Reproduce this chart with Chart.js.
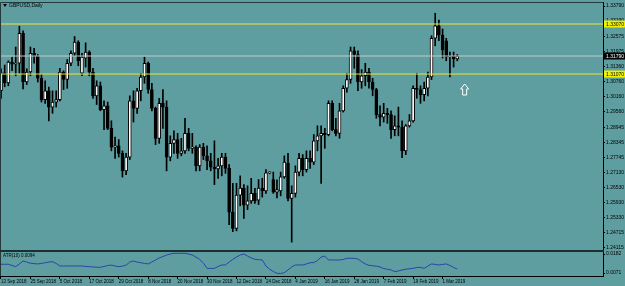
<!DOCTYPE html>
<html>
<head>
<meta charset="utf-8">
<script src="https://cdn.jsdelivr.net/npm/chart.js@4.4.1/dist/chart.umd.min.js"></script>
<style>
  html, body { margin: 0; padding: 0; background: #5f9ea0; }
  #wrap { position: relative; width: 625px; height: 286px; overflow: hidden; }
  canvas { position: absolute; left: 0; }
  #main { top: 0; }
  #atr { top: 251px; }
</style>
</head>
<body>
<div id="wrap">
  <canvas id="main" width="625" height="251"></canvas>
  <canvas id="atr" width="625" height="35"></canvas>
</div>
<script>
const FONT = "'Liberation Sans', Arial, sans-serif";

// GBPUSD daily, 13 Sep 2018 .. 7 Mar 2019
const opens = [
  1.3040,1.3112,1.3071,1.3155,1.3146,1.3150,1.3270,1.3075,1.3115,1.3190,
  1.3178,1.3090,1.3005,1.3040,1.2975,1.2995,1.3005,1.3115,1.3085,1.3150,
  1.3190,1.3235,1.3110,1.3170,1.3195,1.3115,1.3020,1.3060,1.2965,1.2980,
  1.2890,1.2815,1.2820,1.2790,1.2720,1.2775,1.3000,1.2970,1.3040,1.3095,
  1.3150,1.3045,1.2970,1.2850,1.2990,1.2975,1.2775,1.2830,1.2845,1.2790,
  1.2800,1.2870,1.2810,1.2815,1.2740,1.2815,1.2780,1.2760,1.2735,1.2728,
  1.2740,1.2775,1.2730,1.2555,1.2490,1.2623,1.2651,1.2583,1.2600,1.2630,
  1.2603,1.2651,1.2640,1.2712,1.2685,1.2635,1.2640,1.2696,1.2750,1.2610,
  1.2630,1.2715,1.2770,1.2725,1.2770,1.2755,1.2840,1.2860,1.2870,1.2865,
  1.2990,1.2885,1.2870,1.2960,1.3050,1.3085,1.3200,1.3185,1.3075,1.3100,
  1.3115,1.3075,1.3045,1.2945,1.2935,1.2950,1.2945,1.2885,1.2900,1.2895,
  1.2800,1.2900,1.2920,1.3050,1.3045,1.3025,1.3050,1.3095,1.3250,1.3300,
  1.3262,1.3240,1.3175,1.3178,1.3167
];
const highs = [
  1.3128,1.3143,1.3160,1.3175,1.3215,1.3298,1.3280,1.3128,1.3215,1.3210,
  1.3185,1.3105,1.3080,1.3055,1.3040,1.3040,1.3130,1.3120,1.3165,1.3200,
  1.3257,1.3240,1.3190,1.3232,1.3200,1.3130,1.3080,1.3075,1.3000,1.2995,
  1.2920,1.2855,1.2845,1.2800,1.2790,1.3020,1.3040,1.3050,1.3110,1.3175,
  1.3155,1.3070,1.2975,1.3010,1.3045,1.3000,1.2860,1.2880,1.2870,1.2850,
  1.2930,1.2890,1.2870,1.2820,1.2825,1.2830,1.2820,1.2790,1.2840,1.2770,
  1.2790,1.2790,1.2745,1.2670,1.2670,1.2700,1.2665,1.2660,1.2690,1.2650,
  1.2685,1.2690,1.2725,1.2716,1.2715,1.2684,1.2715,1.2780,1.2790,1.2660,
  1.2740,1.2790,1.2785,1.2800,1.2800,1.2865,1.2900,1.2900,1.2890,1.3000,
  1.3000,1.2930,1.2990,1.3060,1.3110,1.3215,1.3215,1.3200,1.3125,1.3150,
  1.3130,1.3090,1.3050,1.2980,1.2990,1.2970,1.2960,1.2940,1.2975,1.2920,
  1.2905,1.2945,1.3060,1.3110,1.3060,1.3075,1.3115,1.3260,1.3350,1.3323,
  1.3287,1.3250,1.3195,1.3195,1.3185
];
const lows = [
  1.3010,1.3056,1.3060,1.3120,1.3100,1.3110,1.3047,1.3065,1.3100,1.3150,
  1.3075,1.2995,1.2990,1.2920,1.2950,1.2975,1.3000,1.3045,1.3050,1.3140,
  1.3180,1.3140,1.3100,1.3135,1.3100,1.3010,1.2985,1.2960,1.2885,1.2885,
  1.2800,1.2770,1.2775,1.2695,1.2705,1.2765,1.2915,1.2950,1.3000,1.3070,
  1.3030,1.2960,1.2825,1.2830,1.2890,1.2720,1.2760,1.2790,1.2770,1.2780,
  1.2790,1.2800,1.2790,1.2720,1.2720,1.2765,1.2725,1.2720,1.2665,1.2690,
  1.2700,1.2710,1.2505,1.2477,1.2480,1.2580,1.2530,1.2565,1.2590,1.2590,
  1.2585,1.2615,1.2630,1.2708,1.2630,1.2612,1.2620,1.2690,1.2600,1.2435,
  1.2615,1.2700,1.2700,1.2715,1.2730,1.2745,1.2800,1.2670,1.2810,1.2860,
  1.2880,1.2860,1.2850,1.2955,1.3035,1.3070,1.3130,1.3040,1.3050,1.3060,
  1.3050,1.3020,1.2930,1.2900,1.2915,1.2910,1.2850,1.2860,1.2860,1.2773,
  1.2785,1.2895,1.2915,1.3010,1.2990,1.3000,1.3020,1.3085,1.3220,1.3240,
  1.3171,1.3160,1.3095,1.3135,1.3160
];
const closes = [
  1.3112,1.3071,1.3155,1.3146,1.3150,1.3270,1.3075,1.3115,1.3190,1.3178,
  1.3090,1.3005,1.3040,1.2975,1.2995,1.3005,1.3115,1.3085,1.3150,1.3190,
  1.3235,1.3160,1.3175,1.3195,1.3115,1.3020,1.3060,1.2965,1.2980,1.2890,
  1.2815,1.2820,1.2790,1.2720,1.2775,1.3000,1.2970,1.3040,1.3095,1.3150,
  1.3045,1.2970,1.2850,1.2990,1.2975,1.2775,1.2830,1.2845,1.2790,1.2800,
  1.2870,1.2810,1.2815,1.2740,1.2815,1.2780,1.2760,1.2735,1.2728,1.2740,
  1.2775,1.2730,1.2555,1.2490,1.2623,1.2651,1.2583,1.2600,1.2630,1.2600,
  1.2651,1.2640,1.2712,1.2712,1.2635,1.2645,1.2696,1.2755,1.2610,1.2630,
  1.2715,1.2770,1.2725,1.2770,1.2755,1.2840,1.2860,1.2870,1.2865,1.2990,
  1.2885,1.2870,1.2960,1.3050,1.3085,1.3200,1.3185,1.3075,1.3100,1.3115,
  1.3075,1.3045,1.2945,1.2935,1.2950,1.2945,1.2885,1.2900,1.2895,1.2800,
  1.2900,1.2920,1.3050,1.3045,1.3025,1.3050,1.3095,1.3250,1.3300,1.3262,
  1.3203,1.3175,1.3178,1.3167,1.3179
];

// ATR(10)
const atrValues = [
  0.0122,0.0122,0.0122,0.0115,0.0108,0.0124,0.0141,0.0135,0.0128,0.0126,
  0.0124,0.0127,0.0131,0.0135,0.0137,0.0127,0.0112,0.0112,0.0112,0.0112,
  0.0112,0.0112,0.0112,0.0109,0.0108,0.0106,0.0105,0.0104,0.0109,0.0115,
  0.0117,0.0112,0.0108,0.0111,0.0117,0.0135,0.0141,0.0135,0.0131,0.0127,
  0.0124,0.0135,0.0147,0.0159,0.0167,0.0176,0.0182,0.0186,0.0186,0.0186,
  0.0186,0.0182,0.0176,0.0164,0.0150,0.0129,0.0098,0.0098,0.0098,0.0109,
  0.0118,0.0118,0.0135,0.0151,0.0164,0.0176,0.0182,0.0170,0.0159,0.0151,
  0.0149,0.0147,0.0112,0.0093,0.0080,0.0069,0.0068,0.0073,0.0089,0.0106,
  0.0118,0.0118,0.0118,0.0124,0.0131,0.0132,0.0144,0.0164,0.0170,0.0147,
  0.0147,0.0147,0.0147,0.0150,0.0157,0.0157,0.0157,0.0153,0.0137,0.0124,
  0.0116,0.0113,0.0111,0.0106,0.0097,0.0093,0.0089,0.0079,0.0083,0.0089,
  0.0093,0.0096,0.0098,0.0103,0.0104,0.0098,0.0112,0.0124,0.0121,0.0118,
  0.0121,0.0124,0.0115,0.0104,0.0094
];

const dateTicks = [
  "13 Sep 2018", "25 Sep 2018", "5 Oct 2018", "17 Oct 2018", "29 Oct 2018",
  "8 Nov 2018", "20 Nov 2018", "30 Nov 2018", "12 Dec 2018", "24 Dec 2018",
  "4 Jan 2019", "16 Jan 2019", "28 Jan 2019", "7 Feb 2019", "19 Feb 2019", "1 Mar 2019"
];
const priceTicks = [
  1.24115, 1.24715, 1.25330, 1.25930, 1.26530, 1.27130, 1.27745, 1.28345, 1.28945,
  1.29560, 1.30160, 1.30760, 1.31360, 1.31975, 1.32575, 1.33190, 1.33790
];
const atrTicks = [0.0071, 0.0182];

const upperLevel = 1.33070;
const lowerLevel = 1.31070;
const bidPrice = 1.31790;
const arrowBar = 126;
const arrowPrice = 1.30672;

// visible window
const xMin = -0.27, xMax = 163.6;
const yMin = 1.24035, yMax = 1.33950;

const idx = opens.map((_, i) => i);
const wicks = idx.map(i => ({ x: i, y: [lows[i], highs[i]] }));
const bodies = idx.map(i => ({ x: i, y: [opens[i], closes[i]] }));
const bodyFill = idx.map(i => closes[i] >= opens[i] ? "#ffffff" : "#000000");

const levelLine = (value, color) => ({
  type: "line",
  data: [{ x: xMin, y: value }, { x: xMax, y: value }],
  borderColor: color,
  borderWidth: 1,
  pointRadius: 0,
  order: -1
});

const mainOverlay = {
  id: "mainOverlay",
  afterDraw(chart) {
    const { ctx, chartArea: a, scales: { x, y } } = chart;
    ctx.save();

    // frame
    ctx.strokeStyle = "#24393a";
    ctx.lineWidth = 1;
    ctx.beginPath();
    ctx.moveTo(a.left + 0.5, a.bottom);
    ctx.lineTo(a.left + 0.5, a.top + 0.5);
    ctx.lineTo(a.right, a.top + 0.5);
    ctx.stroke();
    ctx.fillStyle = "#1c2e2f";
    ctx.fillRect(a.left, a.bottom, a.right - a.left + 1, 1);

    // price tags on the axis
    const tags = [
      { v: upperLevel, bg: "#f2f200", fg: "#000" },
      { v: lowerLevel, bg: "#f2f200", fg: "#000" },
      { v: bidPrice, bg: "#000", fg: "#fff" }
    ];
    ctx.font = "5px " + FONT;
    ctx.textBaseline = "middle";
    ctx.textAlign = "left";
    tags.forEach(t => {
      const py = y.getPixelForValue(t.v);
      ctx.fillStyle = t.bg;
      ctx.fillRect(a.right + 1, py - 3.5, 21, 7);
      ctx.fillStyle = t.fg;
      ctx.fillText(t.v.toFixed(5), a.right + 3, py + 0.5);
    });

    // hollow up arrow
    const ax = x.getPixelForValue(arrowBar);
    const ay = y.getPixelForValue(arrowPrice);
    ctx.strokeStyle = "#ffffff";
    ctx.beginPath();
    ctx.moveTo(ax, ay);
    ctx.lineTo(ax + 4, ay + 5);
    ctx.lineTo(ax + 2, ay + 5);
    ctx.lineTo(ax + 2, ay + 11);
    ctx.lineTo(ax - 2, ay + 11);
    ctx.lineTo(ax - 2, ay + 5);
    ctx.lineTo(ax - 4, ay + 5);
    ctx.closePath();
    ctx.stroke();

    // symbol caption
    ctx.fillStyle = "#000";
    ctx.beginPath();
    ctx.moveTo(3, 4);
    ctx.lineTo(7, 4);
    ctx.lineTo(5, 7);
    ctx.closePath();
    ctx.fill();
    ctx.font = "5px " + FONT;
    ctx.fillText("GBPUSD,Daily", 9, 6);

    ctx.restore();
  }
};

new Chart(document.getElementById("main"), {
  type: "bar",
  data: {
    datasets: [
      levelLine(upperLevel, "#e4e63c"),
      levelLine(lowerLevel, "#e4e63c"),
      levelLine(bidPrice, "#c4c8c8"),
      {
        data: bodies,
        backgroundColor: bodyFill,
        borderColor: "#000",
        borderWidth: 1,
        borderSkipped: false,
        barThickness: 3,
        minBarLength: 1,
        grouped: false,
        order: 0
      },
      {
        data: wicks,
        backgroundColor: "#000",
        barThickness: 1,
        grouped: false,
        order: 1
      }
    ]
  },
  options: {
    responsive: false,
    animation: false,
    events: [],
    layout: { padding: { top: 2, bottom: 1, left: 0, right: 0 } },
    plugins: { legend: { display: false }, tooltip: { enabled: false } },
    scales: {
      x: { type: "linear", min: xMin, max: xMax, display: false, offset: false },
      y: {
        position: "right",
        min: yMin,
        max: yMax,
        afterBuildTicks: s => { s.ticks = priceTicks.map(v => ({ value: v })); },
        afterFit: s => { s.width = 22; s.paddingTop = 0; s.paddingBottom = 0; },
        ticks: {
          autoSkip: false,
          padding: 1,
          color: "#000",
          font: { size: 5, family: FONT },
          callback: v => v.toFixed(5)
        },
        grid: { drawOnChartArea: false, tickLength: 2, color: "#000" },
        border: { color: "#000" }
      }
    }
  },
  plugins: [mainOverlay]
});

const atrOverlay = {
  id: "atrOverlay",
  afterDraw(chart) {
    const { ctx, chartArea: a } = chart;
    ctx.save();
    ctx.fillStyle = "#1c2e2f";
    ctx.fillRect(a.left, a.top - 1, a.right - a.left + 1, 1);
    ctx.strokeStyle = "#24393a";
    ctx.beginPath();
    ctx.moveTo(a.left + 0.5, a.top);
    ctx.lineTo(a.left + 0.5, a.bottom);
    ctx.stroke();
    ctx.fillStyle = "#000";
    ctx.font = "4.5px " + FONT;
    ctx.textBaseline = "middle";
    ctx.fillText("ATR(10) 0.0094", 3, a.top + 4);
    ctx.restore();
  }
};

new Chart(document.getElementById("atr"), {
  type: "line",
  data: {
    datasets: [{
      data: idx.map(i => ({ x: i, y: atrValues[i] })),
      borderColor: "#2a44a6",
      borderWidth: 1,
      pointRadius: 0,
      tension: 0
    }]
  },
  options: {
    responsive: false,
    animation: false,
    events: [],
    layout: { padding: { top: 1, bottom: 0, left: 0, right: 0 } },
    plugins: { legend: { display: false }, tooltip: { enabled: false } },
    scales: {
      x: {
        type: "linear",
        min: xMin,
        max: xMax,
        afterBuildTicks: s => { s.ticks = dateTicks.map((_, k) => ({ value: k * 8 })); },
        afterFit: s => { s.height = 10; s.paddingLeft = 0; s.paddingRight = 0; },
        ticks: {
          autoSkip: false,
          maxRotation: 0,
          align: "start",
          padding: 0,
          color: "#000",
          font: { size: 4.5, family: FONT },
          callback: (v, k) => dateTicks[k]
        },
        grid: { drawOnChartArea: false, tickLength: 3, color: "#000" },
        border: { color: "#000" }
      },
      y: {
        position: "right",
        min: 0.00535,
        max: 0.01937,
        afterBuildTicks: s => { s.ticks = atrTicks.map(v => ({ value: v })); },
        afterFit: s => { s.width = 22; s.paddingTop = 0; s.paddingBottom = 0; },
        ticks: {
          autoSkip: false,
          padding: 1,
          color: "#000",
          font: { size: 5, family: FONT },
          callback: v => v.toFixed(4)
        },
        grid: { drawOnChartArea: false, tickLength: 2, color: "#000" },
        border: { color: "#000" }
      }
    }
  },
  plugins: [atrOverlay]
});
</script>
</body>
</html>
